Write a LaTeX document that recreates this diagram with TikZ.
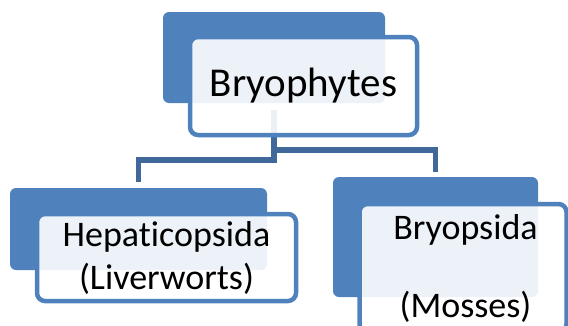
\documentclass[tikz,border=0pt]{standalone}
\usepackage{fontspec}
\setmainfont[Ligatures=NoCommon]{Carlito}
\usepackage{tikz}
\usetikzlibrary{positioning,backgrounds}
\definecolor{boxblue}{RGB}{79,129,189}
\definecolor{linkblue}{RGB}{64,104,155}
\tikzset{
  backbox/.style={fill=boxblue, rounded corners=6pt, inner sep=0pt},
  frontbox/.style={draw=boxblue, line width=4.5pt, fill=white, fill opacity=0.9,
    text opacity=1, rounded corners=8pt, align=center, inner sep=0pt},
  link/.style={draw=linkblue, line width=5.5pt},
}
\begin{document}
\begin{tikzpicture}[x=1pt,y=-1pt]
  \useasboundingbox (0,0) rectangle (568,325);

  % back plates
  \node[backbox, minimum width=222pt, minimum height=91pt] (topback) at (274,57.5) {};
  \node[backbox, minimum width=257pt, minimum height=82pt] (leftback) at (138.5,229) {};
  \node[backbox, minimum width=205pt, minimum height=120pt] (rightback) at (435.5,237) {};

  % front boxes with the names
  \node[frontbox, minimum width=227pt, minimum height=98pt,
        font=\fontsize{41}{45}\selectfont] (top) at (303.5,86) {Bryophytes};
  \node[frontbox, minimum width=259pt, minimum height=87pt,
        font=\fontsize{36}{43}\selectfont] (liver) at (166.5,257.5) {Hepaticopsida\\(Liverworts)};
  \node[frontbox, minimum width=207pt, minimum height=128pt,
        font=\fontsize{36}{39}\selectfont] (moss) at (463,268) {\hspace*{5pt}Bryopsida\\ \\\hspace*{5pt}(Mosses)};

  % connectors
  \begin{scope}[on background layer]
    \draw[link] ([yshift=-7pt]topback.south) -- (topback.south |- 0,160)
      -| ([yshift=6pt]leftback.north);
    \draw[link] ([yshift=-7pt]topback.south) -- (topback.south |- 0,150)
      -| ([yshift=5pt]rightback.north);
  \end{scope}

\end{tikzpicture}
\end{document}
